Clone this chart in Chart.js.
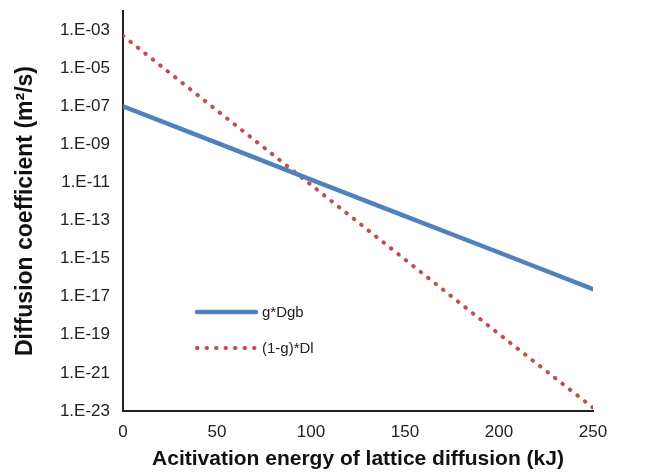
<!DOCTYPE html>
<html>
<head>
<meta charset="utf-8">
<script src="https://cdn.jsdelivr.net/npm/chart.js@4.4.1/dist/chart.umd.min.js"></script>
<style>
  html, body { margin: 0; padding: 0; background: #fff; }
  #wrap { width: 650px; height: 474px; position: relative; }
</style>
</head>
<body>
<div id="wrap"><canvas id="chart" width="650" height="474"></canvas></div>
<script>
// values
const energies = [0, 50, 100, 150, 200, 250];
const gDgb = [1e-7, 1.2e-9, 1.4e-11, 1.7e-13, 2.1e-15, 2.5e-17];
const oneMinusGDl = [5e-4, 6e-8, 7.5e-12, 9e-16, 1.1e-19, 1.5e-23];
const yTickValues = [1e-3, 1e-5, 1e-7, 1e-9, 1e-11, 1e-13, 1e-15, 1e-17, 1e-19, 1e-21, 1e-23];
const seriesNames = ['g*Dgb', '(1-g)*Dl'];

const BLUE = '#4f81bd';
const RED = '#c0504d';
const FONT = 'Arial, "Liberation Sans", sans-serif';
const DOTS = [0.5, 9];

function fmtExp(v) {
  const e = Math.round(Math.log10(v));
  const sign = e < 0 ? '-' : '+';
  return '1.E' + sign + String(Math.abs(e)).padStart(2, '0');
}

// legend sits inside the plot, lower left
const insideLegend = {
  id: 'insideLegend',
  afterDatasetsDraw(chart) {
    const ctx = chart.ctx;
    const rows = [
      { y: 312, color: BLUE, width: 4.5, dash: [] },
      { y: 348, color: RED, width: 4, dash: DOTS },
    ];
    ctx.save();
    rows.forEach((r, i) => {
      ctx.beginPath();
      ctx.strokeStyle = r.color;
      ctx.lineWidth = r.width;
      ctx.lineCap = 'round';
      ctx.setLineDash(r.dash);
      ctx.moveTo(197, r.y);
      ctx.lineTo(256, r.y);
      ctx.stroke();
      ctx.setLineDash([]);
      ctx.fillStyle = '#222';
      ctx.font = '15px ' + FONT;
      ctx.textBaseline = 'middle';
      ctx.fillText(seriesNames[i], 262, r.y + 1);
    });
    ctx.restore();
  },
};

new Chart(document.getElementById('chart'), {
  type: 'line',
  data: {
    labels: energies,
    datasets: [
      {
        label: seriesNames[0],
        data: energies.map((x, i) => ({ x, y: gDgb[i] })),
        borderColor: BLUE,
        borderWidth: 4.5,
        pointRadius: 0,
        borderCapStyle: 'round',
        tension: 0,
      },
      {
        label: seriesNames[1],
        data: energies.map((x, i) => ({ x, y: oneMinusGDl[i] })),
        borderColor: RED,
        borderWidth: 4,
        borderDash: DOTS,
        borderCapStyle: 'round',
        pointRadius: 0,
        tension: 0,
      },
    ],
  },
  options: {
    responsive: false,
    animation: false,
    devicePixelRatio: 1,
    layout: { padding: { left: 0, right: 57, top: 11, bottom: 0 } },
    plugins: { legend: { display: false }, tooltip: { enabled: false } },
    scales: {
      x: {
        type: 'linear',
        min: 0,
        max: 250,
        grid: { display: false, drawTicks: true, tickLength: 6, tickColor: '#888', tickWidth: 1 },
        border: { display: true, color: '#222', width: 2 },
        ticks: { stepSize: 50, color: '#222', font: { family: FONT, size: 17 }, padding: 5, maxRotation: 0 },
        title: {
          display: true,
          text: 'Acitivation energy of lattice diffusion (kJ)',
          color: '#111',
          font: { family: FONT, size: 21, weight: 'bold' },
          padding: { top: 0, bottom: 2 },
        },
        afterFit(scale) {
          scale.height = 63;
          scale.paddingLeft = 0;
          scale.paddingRight = 0;
        },
      },
      y: {
        type: 'logarithmic',
        min: 1e-23,
        max: 1e-2,
        grid: { display: false, drawTicks: true, tickLength: 6, tickColor: '#888', tickWidth: 1 },
        border: { display: true, color: '#222', width: 2 },
        afterBuildTicks(scale) {
          scale.ticks = yTickValues.map((v) => ({ value: v }));
        },
        ticks: {
          color: '#222',
          font: { family: FONT, size: 17 },
          padding: 7,
          callback: (v) => fmtExp(v),
        },
        title: {
          display: true,
          text: 'Diffusion coefficient (m\u00B2/s)',
          color: '#111',
          font: { family: FONT, size: 23, weight: 'bold' },
          padding: { top: 12, bottom: 0 },
        },
        afterFit(scale) {
          scale.width = 123;
          scale.paddingTop = 0;
          scale.paddingBottom = 0;
        },
      },
    },
  },
  plugins: [insideLegend],
});
</script>
</body>
</html>
